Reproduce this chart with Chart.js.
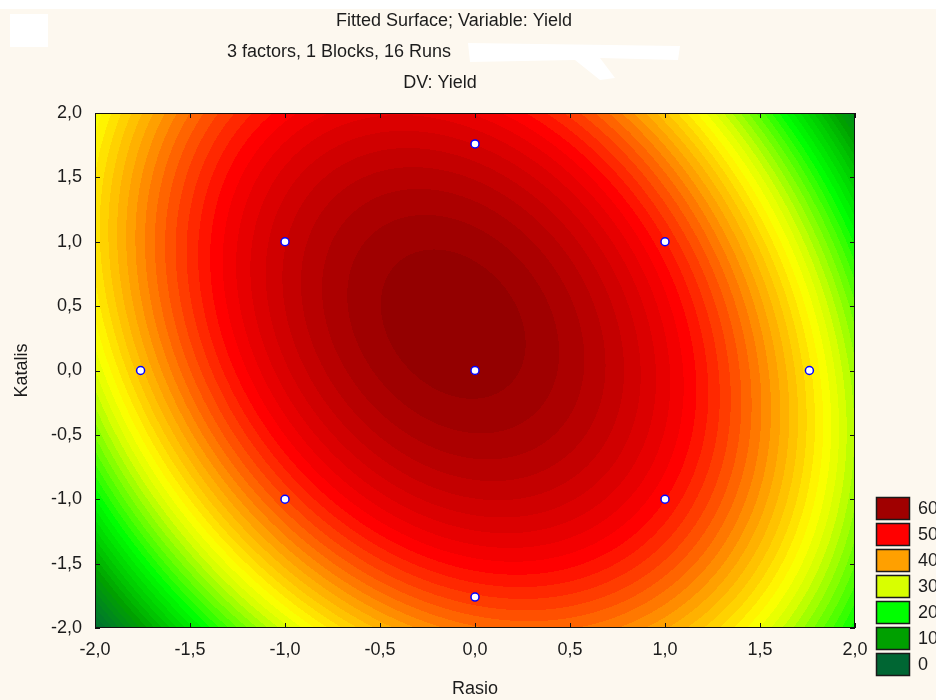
<!DOCTYPE html>
<html>
<head>
<meta charset="utf-8">
<title>Fitted Surface; Variable: Yield</title>
<script src="https://cdn.jsdelivr.net/npm/chart.js@4.4.1/dist/chart.umd.min.js"></script>
<style>
  html, body { margin: 0; padding: 0; background: #fdf8ef; }
  #wrap { width: 936px; height: 700px; }
</style>
</head>
<body>
<div id="wrap"><canvas id="surface" width="936" height="700"></canvas></div>
<script>
// design runs (coded units), as plotted
const rasioRuns = [0, -1, 1, -1, 1, -1.76, 1.76, 0, 0];
const katalisRuns = [0, 1, 1, -1, -1, 0, 0, 1.76, -1.76];

// fitted quadratic model of Yield
const intercept = 61.9;
const linearCoef = [-0.85, 2.2];    // Rasio, Katalis
const squareCoef = [-8.1, -3.5];    // Rasio^2, Katalis^2
const interactCoef = [-2.8];        // Rasio*Katalis

// contour legend
const legendLevels = [60, 50, 40, 30, 20, 10, 0];
const legendColors = ['#a00000', '#ff0000', '#ffa000', '#d8ff00', '#00ff00', '#00a000', '#006633'];
const bandStep = 1.25;

const tickValues = [-2, -1.5, -1, -0.5, 0, 0.5, 1, 1.5, 2];
const titleLines = ['Fitted Surface; Variable: Yield', '3 factors, 1 Blocks, 16 Runs', 'DV: Yield'];

const FONT = 'Liberation Sans, Arial, sans-serif';
const TEXT = '#1c1c1c';

function yieldAt(r, k) {
  return intercept + linearCoef[0] * r + linearCoef[1] * k +
    squareCoef[0] * r * r + squareCoef[1] * k * k + interactCoef[0] * r * k;
}

function hexToHsv(hex) {
  const n = parseInt(hex.slice(1), 16);
  const r = (n >> 16) / 255, g = ((n >> 8) & 255) / 255, b = (n & 255) / 255;
  const mx = Math.max(r, g, b), mn = Math.min(r, g, b), d = mx - mn;
  let h = 0;
  if (d) {
    if (mx === r) h = ((g - b) / d) % 6;
    else if (mx === g) h = (b - r) / d + 2;
    else h = (r - g) / d + 4;
    h *= 60; if (h < 0) h += 360;
  }
  return [h, mx ? d / mx : 0, mx];
}
function hsvToRgb(h, s, v) {
  const c = v * s, x = c * (1 - Math.abs((h / 60) % 2 - 1)), m = v - c;
  let r, g, b;
  if (h < 60) [r, g, b] = [c, x, 0];
  else if (h < 120) [r, g, b] = [x, c, 0];
  else if (h < 180) [r, g, b] = [0, c, x];
  else [r, g, b] = [0, x, c];
  return [Math.round((r + m) * 255), Math.round((g + m) * 255), Math.round((b + m) * 255)];
}

// stops sorted ascending
const stops = legendLevels.map((l, i) => ({ l, hsv: hexToHsv(legendColors[i]) })).sort((a, b) => a.l - b.l);

function colorFor(val) {
  if (val <= stops[0].l) return hsvToRgb(...stops[0].hsv);
  const last = stops[stops.length - 1], prev = stops[stops.length - 2];
  if (val >= last.l) {
    // darken beyond the top level
    const slope = (last.hsv[2] - prev.hsv[2]) / (last.l - prev.l);
    const v = Math.max(0.45, last.hsv[2] + slope * (val - last.l));
    return hsvToRgb(last.hsv[0], last.hsv[1], v);
  }
  for (let i = 0; i < stops.length - 1; i++) {
    const a = stops[i], b = stops[i + 1];
    if (val >= a.l && val <= b.l) {
      const t = (val - a.l) / (b.l - a.l);
      return hsvToRgb(a.hsv[0] + (b.hsv[0] - a.hsv[0]) * t,
        a.hsv[1] + (b.hsv[1] - a.hsv[1]) * t,
        a.hsv[2] + (b.hsv[2] - a.hsv[2]) * t);
    }
  }
  return [0, 0, 0];
}

const fmt = v => Number(v).toFixed(1).replace('.', ',');

const surfacePlugin = {
  id: 'surface',
  beforeDatasetsDraw(chart) {
    const { ctx, chartArea: a, scales: { x, y } } = chart;
    const w = Math.round(a.right - a.left), h = Math.round(a.bottom - a.top);
    const off = document.createElement('canvas');
    off.width = w; off.height = h;
    const octx = off.getContext('2d');
    const img = octx.createImageData(w, h);
    const xs = [], ys = [];
    for (let i = 0; i < w; i++) xs.push(x.getValueForPixel(a.left + i + 0.5));
    for (let j = 0; j < h; j++) ys.push(y.getValueForPixel(a.top + j + 0.5));
    const cache = {};
    for (let j = 0; j < h; j++) {
      for (let i = 0; i < w; i++) {
        const lvl = Math.floor(yieldAt(xs[i], ys[j]) / bandStep);
        const c = cache[lvl] || (cache[lvl] = colorFor(lvl * bandStep));
        const p = (j * w + i) * 4;
        img.data[p] = c[0]; img.data[p + 1] = c[1]; img.data[p + 2] = c[2]; img.data[p + 3] = 255;
      }
    }
    octx.putImageData(img, 0, 0);
    ctx.drawImage(off, a.left, a.top);

    // frame with inward ticks on all sides
    ctx.save();
    ctx.strokeStyle = '#111';
    ctx.lineWidth = 1;
    ctx.strokeRect(a.left + 0.5, a.top + 0.5, a.right - a.left - 1, a.bottom - a.top - 1);
    ctx.beginPath();
    tickValues.forEach(v => {
      const px = Math.round(x.getPixelForValue(v)) + 0.5;
      const py = Math.round(y.getPixelForValue(v)) + 0.5;
      ctx.moveTo(px, a.bottom); ctx.lineTo(px, a.bottom - 5);
      ctx.moveTo(px, a.top); ctx.lineTo(px, a.top + 5);
      ctx.moveTo(a.left, py); ctx.lineTo(a.left + 5, py);
      ctx.moveTo(a.right, py); ctx.lineTo(a.right - 5, py);
    });
    ctx.stroke();
    ctx.restore();
  }
};

const decorPlugin = {
  id: 'decor',
  beforeDraw(chart) {
    const ctx = chart.ctx;
    ctx.save();
    ctx.fillStyle = '#ffffff';
    ctx.fillRect(0, 0, 936, 9);
    ctx.fillRect(10, 14, 38, 33);
    ctx.beginPath();
    ctx.moveTo(468, 43); ctx.lineTo(680, 46); ctx.lineTo(678, 60);
    ctx.lineTo(600, 58); ctx.lineTo(615, 78); ctx.lineTo(600, 80);
    ctx.lineTo(575, 60); ctx.lineTo(470, 62);
    ctx.closePath(); ctx.fill();
    ctx.fillStyle = TEXT;
    ctx.font = '18px ' + FONT;
    ctx.textAlign = 'center';
    ctx.textBaseline = 'middle';
    ctx.fillText(titleLines[0], 454, 21);
    ctx.fillText(titleLines[1], 339, 52);
    ctx.fillText(titleLines[2], 440, 83);
    ctx.restore();
  },
  afterDraw(chart) {
    const ctx = chart.ctx;
    ctx.save();
    ctx.font = '18px ' + FONT;
    ctx.textAlign = 'left';
    ctx.textBaseline = 'middle';
    legendLevels.forEach((lvl, i) => {
      const top = 497 + i * 26;
      ctx.fillStyle = legendColors[i];
      ctx.fillRect(876, top, 34, 23);
      ctx.strokeStyle = '#1a1a1a';
      ctx.lineWidth = 1.5;
      ctx.strokeRect(876.5, top + 0.5, 33, 22);
      ctx.fillStyle = TEXT;
      ctx.fillText(String(lvl), 918, top + 12);
    });
    ctx.restore();
  }
};

const tickFont = { family: FONT, size: 18 };

new Chart(document.getElementById('surface'), {
  type: 'scatter',
  data: {
    datasets: [{
      label: 'Runs',
      data: rasioRuns.map((r, i) => ({ x: r, y: katalisRuns[i] })),
      pointRadius: 4,
      pointBackgroundColor: '#ffffff',
      pointBorderColor: '#0000ff',
      pointBorderWidth: 1.5
    }]
  },
  options: {
    responsive: false,
    animation: false,
    events: [],
    layout: { padding: { top: 113, right: 81, left: 0, bottom: 0 } },
    plugins: { legend: { display: false }, tooltip: { enabled: false } },
    scales: {
      x: {
        type: 'linear', min: -2, max: 2,
        afterBuildTicks(s) { s.ticks = tickValues.map(v => ({ value: v })); },
        afterFit(s) { s.height = 72; },
        grid: { display: false, drawTicks: false },
        border: { display: false },
        ticks: { padding: 11, color: TEXT, font: tickFont, autoSkip: false, maxRotation: 0, callback: fmt },
        title: { display: true, text: 'Rasio', color: TEXT, font: tickFont, padding: { top: 0, bottom: 0 } }
      },
      y: {
        type: 'linear', min: -2, max: 2,
        afterBuildTicks(s) { s.ticks = tickValues.map(v => ({ value: v })); },
        afterFit(s) { s.width = 95; },
        grid: { display: false, drawTicks: false },
        border: { display: false },
        ticks: { padding: 13, color: TEXT, font: tickFont, autoSkip: false, callback: fmt },
        title: { display: true, text: 'Katalis', color: TEXT, font: tickFont, padding: { top: 11, bottom: 0 } }
      }
    }
  },
  plugins: [surfacePlugin, decorPlugin]
});
</script>
</body>
</html>
